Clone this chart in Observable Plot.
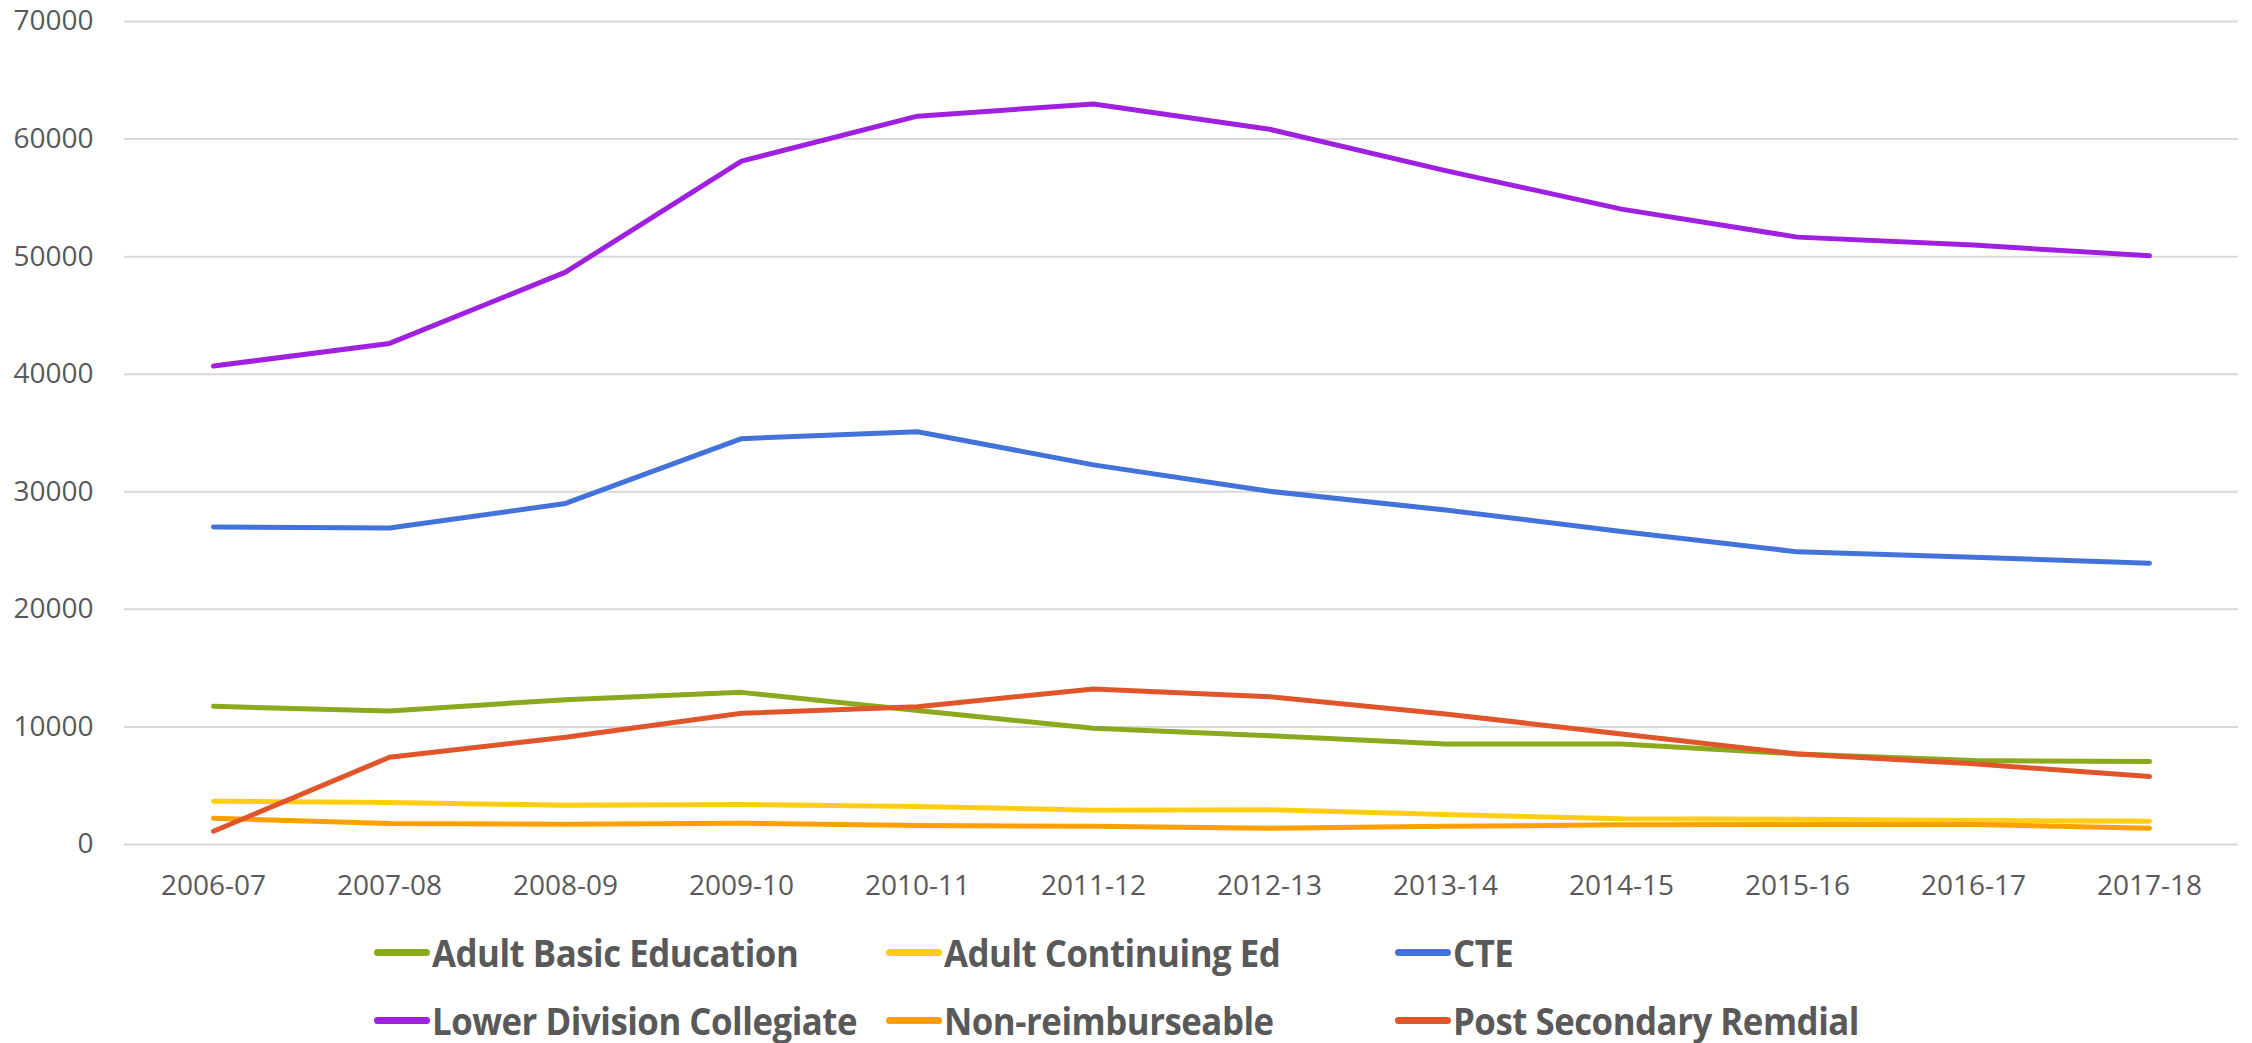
<!DOCTYPE html>
<html>
<head>
<meta charset="utf-8">
<script src="https://cdn.jsdelivr.net/npm/d3@7"></script>
<script src="https://cdn.jsdelivr.net/npm/@observablehq/plot@0.6"></script>
<style>
  body { margin: 0; background: #fff; overflow: hidden; }
  #chart svg { display: block; }
  #legend {
    display: grid;
    grid-template-columns: 512px 509px 600px;
    grid-auto-rows: 68px;
    padding-left: 374px;
    padding-top: 8px;
    font-family: "Open Sans", sans-serif;
    font-weight: bold;
    font-size: 37px;
    line-height: 1;
    color: #595959;
  }
  .item { display: flex; align-items: center; white-space: nowrap; }
  .sw { width: 56px; height: 7px; border-radius: 4px; margin-right: 2px; flex: none; }
  .lt { display: inline-block; transform: scaleX(0.94); transform-origin: left center; letter-spacing: -0.5px; }
</style>
</head>
<body>
<div id="chart"></div>
<div id="legend"></div>
<script>
const years = ["2006-07","2007-08","2008-09","2009-10","2010-11","2011-12","2012-13","2013-14","2014-15","2015-16","2016-17","2017-18"];
const seriesNames = ["Adult Basic Education","Adult Continuing Ed","CTE","Lower Division Collegiate","Non-reimburseable","Post Secondary Remdial"];
const seriesColors = ["#8AAA1E","#FFCE14","#4472DB","#A020E0","#FFA000","#E0552A"];
const adultBasic = [11750, 11360, 12320, 12940, 11390, 9880, 9260, 8550, 8550, 7700, 7140, 7050];
const adultContinuing = [3680, 3570, 3340, 3400, 3230, 2920, 2950, 2550, 2180, 2150, 2040, 1980];
const cte = [27010, 26920, 29010, 34520, 35110, 32290, 30040, 28450, 26620, 24890, 24440, 23930];
const lowerDivision = [40690, 42620, 48680, 58130, 61950, 62990, 60840, 57320, 54040, 51660, 50980, 50080];
const nonReimb = [2240, 1780, 1730, 1810, 1610, 1550, 1390, 1550, 1670, 1700, 1700, 1390];
const postSecondary = [1130, 7420, 9120, 11160, 11720, 13230, 12570, 11100, 9400, 7700, 6860, 5780];
const yTicks = [0, 10000, 20000, 30000, 40000, 50000, 60000, 70000];

const allValues = [adultBasic, adultContinuing, cte, lowerDivision, nonReimb, postSecondary];
const data = [];
allValues.forEach((vals, s) => vals.forEach((v, i) => data.push({series: seriesNames[s], year: years[i], value: v})));

const chart = Plot.plot({
  width: 2252,
  height: 910,
  marginLeft: 124,
  marginRight: 14,
  marginTop: 21,
  marginBottom: 66,
  style: {fontFamily: "'Open Sans', sans-serif", fontSize: "28px", color: "#595959", background: "#fff"},
  x: {type: "point", domain: years, padding: 0.5, label: null},
  y: {domain: [0, 70000], label: null},
  color: {domain: seriesNames, range: seriesColors},
  marks: [
    Plot.gridY(yTicks, {stroke: "#D9D9D9", strokeOpacity: 1, strokeWidth: 2}),
    Plot.axisY(yTicks, {tickSize: 0, tickPadding: 31, tickFormat: d => String(d), fontSize: 28}),
    Plot.axisX({tickSize: 0, tickPadding: 31, fontSize: 28}),
    Plot.line(data, {x: "year", y: "value", z: "series", stroke: "series", strokeWidth: 5, strokeLinecap: "round", strokeLinejoin: "round"})
  ]
});
document.getElementById("chart").appendChild(chart);

const legend = document.getElementById("legend");
seriesNames.forEach((name, i) => {
  const item = document.createElement("div");
  item.className = "item";
  const sw = document.createElement("span");
  sw.className = "sw";
  sw.style.background = seriesColors[i];
  const t = document.createElement("span");
  t.className = "lt";
  t.textContent = name;
  item.appendChild(sw);
  item.appendChild(t);
  legend.appendChild(item);
});
</script>
</body>
</html>
